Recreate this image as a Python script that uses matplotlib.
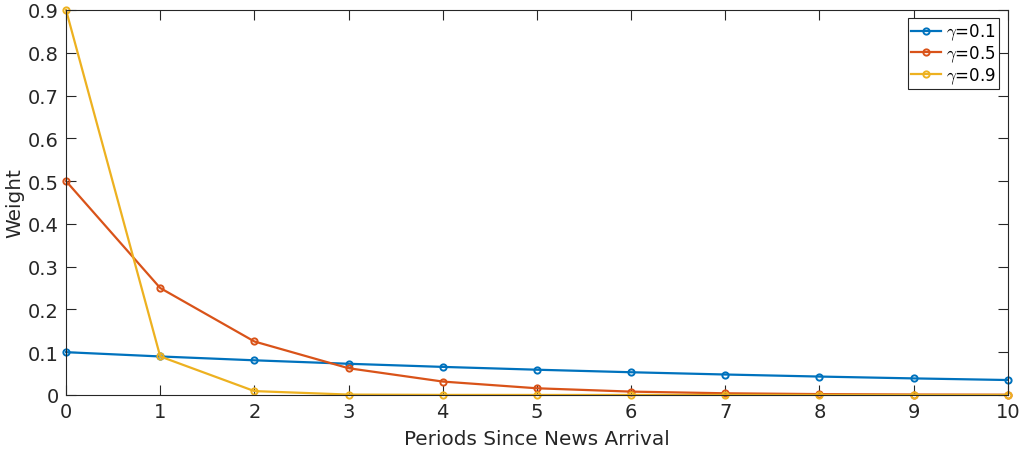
import matplotlib
matplotlib.use("Agg")
import matplotlib.pyplot as plt

periods = [0, 1, 2, 3, 4, 5, 6, 7, 8, 9, 10]
w_01 = [0.1, 0.09, 0.081, 0.0729, 0.0656, 0.059, 0.0531, 0.0478, 0.043, 0.0387, 0.0349]
w_05 = [0.5, 0.25, 0.125, 0.0625, 0.0313, 0.0156, 0.0078, 0.0039, 0.002, 0.001, 0.0005]
w_09 = [0.9, 0.09, 0.009, 0.0009, 0.0001, 0.0, 0.0, 0.0, 0.0, 0.0, 0.0]
labels = [r"$\gamma$=0.1", r"$\gamma$=0.5", r"$\gamma$=0.9"]

colors = ["#0072BD", "#D95319", "#EDB120"]

plt.rcParams["font.family"] = ["DejaVu Sans"]
plt.rcParams["mathtext.fontset"] = "cm"

fig = plt.figure(figsize=(10.19, 4.52), dpi=100)
ax = fig.add_axes([0.0648, 0.124, 0.9242, 0.8517])

for ys, c, lab in zip([w_01, w_05, w_09], colors, labels):
    ax.plot(periods, ys, color=c, linewidth=1.6, marker="o", markersize=4.5,
            markerfacecolor="none", markeredgewidth=1.4, label=lab, clip_on=False)

ax.set_xlim(0, 10)
ax.set_ylim(0, 0.9)
ax.set_xticks(range(0, 11))
ax.set_yticks([0, 0.1, 0.2, 0.3, 0.4, 0.5, 0.6, 0.7, 0.8, 0.9])
ax.set_yticklabels(["0", "0.1", "0.2", "0.3", "0.4", "0.5", "0.6", "0.7", "0.8", "0.9"])
ax.tick_params(direction="in", length=7, width=0.8, top=True, right=True,
               labelsize=14, colors="#262626", pad=5)
for s in ax.spines.values():
    s.set_color("#262626")
    s.set_linewidth(0.8)

ax.set_xlabel("Periods Since News Arrival", fontsize=14.4, color="#262626", labelpad=6)
ax.set_ylabel("Weight", fontsize=14.4, color="#262626", labelpad=3)

leg = ax.legend(loc="upper right", fontsize=12, fancybox=False, framealpha=1,
                edgecolor="#262626", borderaxespad=0.5, handlelength=1.8,
                handletextpad=0.3, borderpad=0.2, labelspacing=0.08)
leg.get_frame().set_linewidth(0.8)

fig.savefig("out.png", dpi=100)
